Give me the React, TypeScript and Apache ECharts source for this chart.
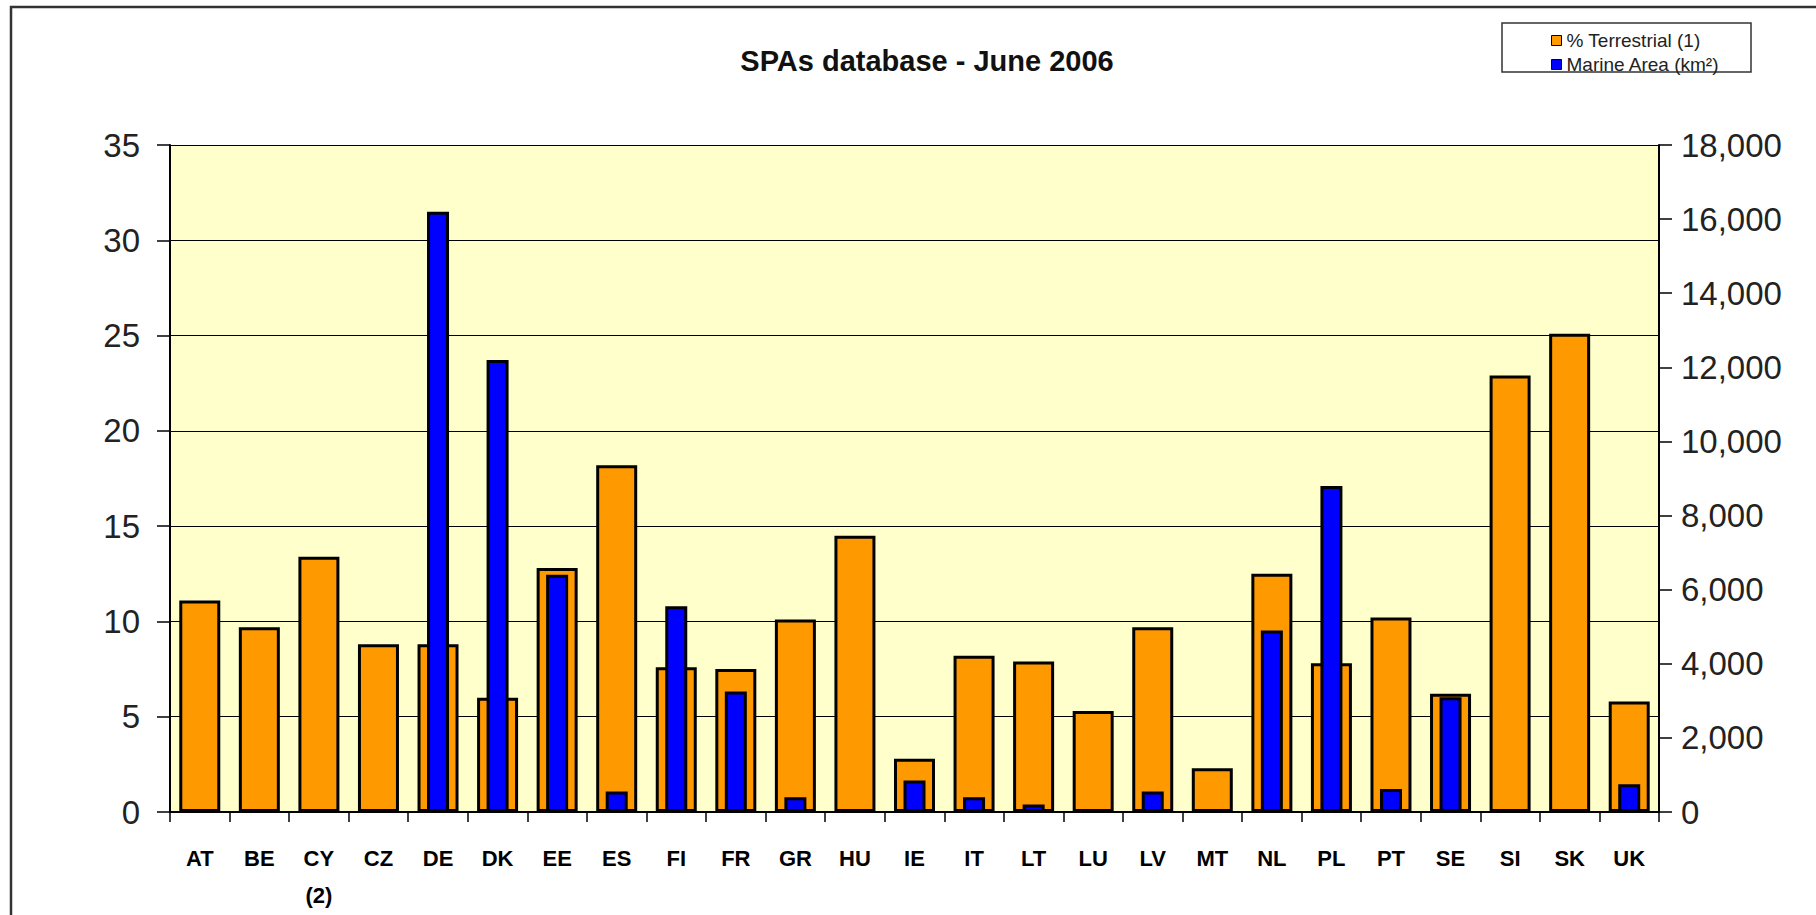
import React, { useEffect, useRef } from "react";
import * as echarts from "echarts";

const categories = ["AT", "BE", "CY\n(2)", "CZ", "DE", "DK", "EE", "ES", "FI", "FR", "GR", "HU", "IE", "IT", "LT", "LU", "LV", "MT", "NL", "PL", "PT", "SE", "SI", "SK", "UK"];
const terrestrial = [11.1, 9.7, 13.4, 8.8, 8.8, 6.0, 12.8, 18.2, 7.6, 7.5, 10.1, 14.5, 2.8, 8.2, 7.9, 5.3, 9.7, 2.3, 12.5, 7.8, 10.2, 6.2, 22.9, 25.1, 5.8];
const marine = [null, null, null, null, 16200, 12200, 6400, 550, 5550, 3250, 400, null, 850, 400, 200, null, 550, null, 4900, 8800, 620, 3100, null, null, 750];
const leftTicks = { min: 0, max: 35, interval: 5 };
const rightTicks = { min: 0, max: 18000, interval: 2000 };
const titleText = "SPAs database - June 2006";
const seriesNames = ["% Terrestrial (1)", "Marine Area (km²)"];

export default function App() {
  const ref = useRef<HTMLDivElement>(null);
  useEffect(() => {
    document.body.style.margin = "0";
    const chart = echarts.init(ref.current!, null, { renderer: "svg" });
    const font = "'Liberation Sans', Arial, sans-serif";
    chart.setOption({
      animation: false,
      backgroundColor: "#ffffff",
      textStyle: { fontFamily: font },
      title: {
        text: titleText,
        left: 922,
        top: 41,
        textAlign: "center",
        textStyle: { fontSize: 29, fontWeight: "bold", color: "#111", fontFamily: font },
      },
      graphic: [
        {
          type: "rect",
          shape: { x: 11, y: 7, width: 1900, height: 1000 },
          style: { fill: "none", stroke: "#333", lineWidth: 2.5 },
          silent: true,
        },
        {
          type: "rect",
          shape: { x: 1502, y: 23, width: 249, height: 49 },
          style: { fill: "#fff", stroke: "#333", lineWidth: 1.5 },
          z: 0,
          silent: true,
        },
      ],
      legend: {
        orient: "vertical",
        left: 1546,
        top: 26,
        itemWidth: 10,
        itemHeight: 10,
        itemGap: 5,
        z: 10,
        textStyle: { fontSize: 19, color: "#222", fontFamily: font },
        data: [
          { name: seriesNames[0], icon: "rect", itemStyle: { color: "#FF9900", borderColor: "#000", borderWidth: 1 } },
          { name: seriesNames[1], icon: "rect", itemStyle: { color: "#0000FF", borderColor: "#000", borderWidth: 1 } },
        ],
      },
      grid: {
        left: 170,
        right: 157,
        top: 145,
        bottom: 103,
        show: true,
        backgroundColor: "#FFFFCC",
        borderWidth: 0,
        outerBoundsMode: "none",
        containLabel: false,
      },
      xAxis: [
        {
          type: "category",
          data: categories,
          axisLine: { lineStyle: { color: "#000", width: 2 } },
          axisTick: { show: true, length: 10, lineStyle: { color: "#000", width: 1.5 } },
          axisLabel: {
            interval: 0,
            margin: 28,
            fontSize: 22,
            fontWeight: "bold",
            color: "#000",
            lineHeight: 37,
            verticalAlign: "top",
            fontFamily: font,
          },
        },
        {
          type: "category",
          data: categories,
          show: false,
        },
      ],
      yAxis: [
        {
          type: "value",
          min: leftTicks.min,
          max: leftTicks.max,
          interval: leftTicks.interval,
          position: "left",
          axisLine: { show: true, lineStyle: { color: "#000", width: 2 } },
          axisTick: { show: true, length: 13, lineStyle: { color: "#000", width: 1.5 } },
          axisLabel: { fontSize: 33, color: "#222", margin: 30, fontFamily: font },
          splitLine: { show: true, lineStyle: { color: "#000", width: 1.2 } },
        },
        {
          type: "value",
          min: rightTicks.min,
          max: rightTicks.max,
          interval: rightTicks.interval,
          position: "right",
          axisLine: { show: true, lineStyle: { color: "#000", width: 2 } },
          axisTick: { show: true, length: 13, lineStyle: { color: "#000", width: 1.5 } },
          axisLabel: {
            fontSize: 33,
            color: "#222",
            margin: 22,
            fontFamily: font,
            formatter: (v: number) => v.toLocaleString("en-US"),
          },
          splitLine: { show: false },
        },
      ],
      series: [
        {
          name: seriesNames[0],
          type: "bar",
          xAxisIndex: 0,
          yAxisIndex: 0,
          data: terrestrial,
          barWidth: 41,
          itemStyle: { color: "#FF9900", borderColor: "#000", borderWidth: 3 },
        },
        {
          name: seriesNames[1],
          type: "bar",
          xAxisIndex: 1,
          yAxisIndex: 1,
          data: marine,
          barWidth: 22,
          z: 3,
          itemStyle: { color: "#0000FF", borderColor: "#000", borderWidth: 3 },
        },
      ],
    });
    return () => chart.dispose();
  }, []);
  return <div ref={ref} style={{ width: 1816, height: 915 }} />;
}
